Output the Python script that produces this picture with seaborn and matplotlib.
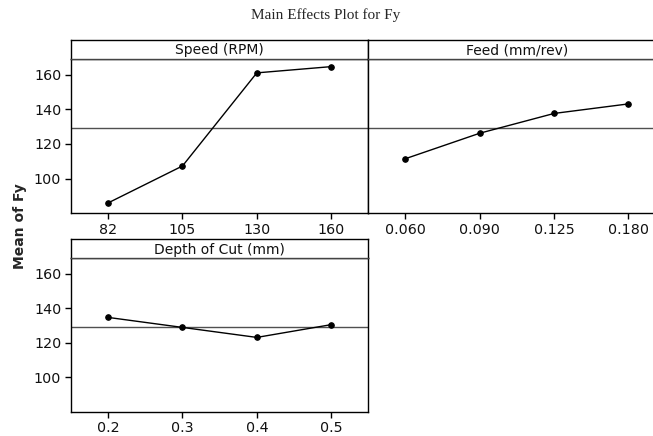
import pandas as pd
import matplotlib.pyplot as plt
import seaborn as sns

# Main effects means
speed_levels = ["82", "105", "130", "160"]
speed_means = [86.0, 107.3, 161.0, 164.6]

feed_levels = ["0.060", "0.090", "0.125", "0.180"]
feed_means = [111.5, 126.2, 137.6, 143.1]

depth_levels = ["0.2", "0.3", "0.4", "0.5"]
depth_means = [134.7, 128.9, 123.1, 130.5]

grand_mean = 129.4
panel_titles = ["Speed (RPM)", "Feed (mm/rev)", "Depth of Cut (mm)"]

sns.set_theme(style="white")
plt.rcParams["font.family"] = ["DejaVu Sans"]

W, H = 653, 436
fig = plt.figure(figsize=(W / 100, H / 100), dpi=100)


def px_axes(x0, y0, x1, y1):
    # pixel box (top-left origin) -> figure axes
    return fig.add_axes([x0 / W, (H - y1) / H, (x1 - x0) / W, (y1 - y0) / H])


def draw_panel(box, strip_top, levels, means, title, show_y=True):
    x0, y0, x1, y1 = box
    ax = px_axes(x0, y0, x1, y1)
    df = pd.DataFrame({"level": levels, "mean": means})
    sns.pointplot(data=df, x="level", y="mean", order=levels, color="black",
                  markers="o", markersize=4, linewidth=1, ax=ax)
    ax.axhline(grand_mean, color="#505050", linewidth=1, zorder=0)
    ax.set_xlim(-0.5, 3.5)
    ax.set_ylim(80, 169)
    ax.set_yticks([100, 120, 140, 160])
    ax.set_xlabel("")
    ax.set_ylabel("")
    ax.tick_params(axis="both", direction="out", length=4, width=1,
                   color="black", labelsize=10.3, pad=3, labelcolor="#111111")
    ax.tick_params(axis="both", which="both", bottom=True, left=show_y)
    if not show_y:
        ax.set_yticklabels([])
    for s in ax.spines.values():
        s.set_color("black")
        s.set_linewidth(1)

    strip = px_axes(x0, strip_top, x1, y0)
    strip.set_xticks([])
    strip.set_yticks([])
    for s in strip.spines.values():
        s.set_color("black")
        s.set_linewidth(1)
    strip.spines["bottom"].set_color("#444444")
    strip.text(0.5, 0.45, title, ha="center", va="center", fontsize=10,
               color="#111111", transform=strip.transAxes)
    return ax


draw_panel((71, 59, 368.3, 213.3), 39.7, speed_levels, speed_means, panel_titles[0])
draw_panel((368.3, 59, 665.6, 213.3), 39.7, feed_levels, feed_means, panel_titles[1], show_y=False)
draw_panel((71, 258.3, 368.3, 411.7), 239.3, depth_levels, depth_means, panel_titles[2])

fig.text(326 / W, 1 - 15 / H, "Main Effects Plot for Fy", ha="center", va="center",
         fontsize=11, family=["Liberation Serif", "DejaVu Serif"])
fig.text(20 / W, 1 - 226 / H, "Mean of Fy", ha="center", va="center", rotation=90,
         fontsize=10, fontweight="bold")

fig.savefig("out.png", dpi=100)
